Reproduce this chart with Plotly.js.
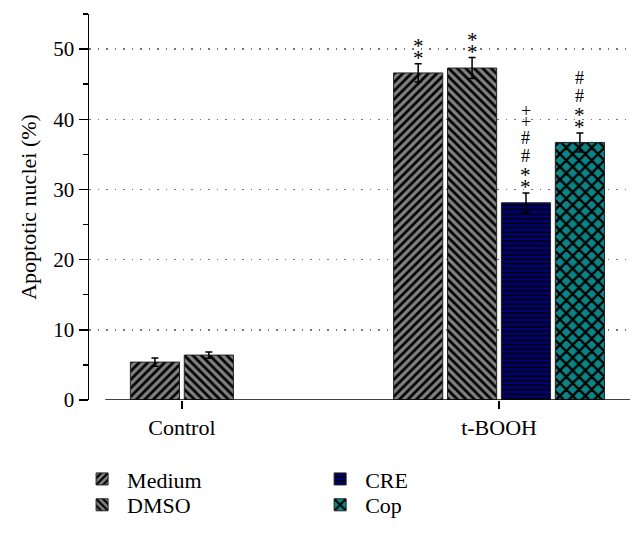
<!DOCTYPE html>
<html>
<head>
<meta charset="utf-8">
<script src="https://cdn.plot.ly/plotly-3.0.1.min.js"></script>
<style>html,body{margin:0;padding:0;background:#fff;}#chart{width:644px;height:533px;}</style>
</head>
<body>
<div id="chart"></div>
<script>
const categories = ['Control', 't-BOOH'];
const seriesNames = ['Medium', 'DMSO', 'CRE', 'Cop'];
const medium = [5.4, 46.6];
const dmso = [6.4, 47.3];
const cre = [null, 28.1];
const cop = [null, 36.7];
const mediumErr = [0.6, 1.3];
const dmsoErr = [0.45, 1.5];
const creErr = [0, 1.4];
const copErr = [0, 1.35];
const mediumSig = ['', '**'];
const dmsoSig = ['', '**'];
const creSig = ['', '**##++'];
const copSig = ['', '**##'];
const yTicks = [0, 10, 20, 30, 40, 50];

const values = [medium, dmso, cre, cop];
const errs = [mediumErr, dmsoErr, creErr, copErr];
const sigs = [mediumSig, dmsoSig, creSig, copSig];

const styles = [
  {color: '#808080', shape: '/', size: 6, solidity: 0.45, fg: '#000'},
  {color: '#808080', shape: '\\', size: 6, solidity: 0.45, fg: '#000'},
  {color: '#00007a', shape: '-', size: 4.5, solidity: 0.4, fg: '#000'},
  {color: '#0a8585', shape: 'x', size: 9, solidity: 0.45, fg: '#000'}
];
const legendOf = ['legend', 'legend2', 'legend3', 'legend4'];

const pitch = 0.17, barW = 0.155;
const offsets = values.map(() => categories.map(() => 0));
categories.forEach((c, g) => {
  const present = values.map((v, s) => v[g] != null ? s : -1).filter(s => s >= 0);
  const n = present.length;
  present.forEach((s, k) => {
    offsets[s][g] = (k - n / 2) * pitch + (pitch - barW) / 2;
  });
});

const traces = seriesNames.map((name, s) => ({
  type: 'bar',
  name: name,
  x: categories,
  y: values[s],
  width: barW,
  offset: offsets[s],
  legend: legendOf[s],
  marker: {
    color: styles[s].color,
    line: {color: '#222', width: 1},
    pattern: {shape: styles[s].shape, size: styles[s].size, solidity: styles[s].solidity,
              fgcolor: styles[s].fg, bgcolor: styles[s].color, fillmode: 'replace'}
  },
  error_y: {type: 'data', array: errs[s], visible: true, color: '#000', thickness: 1.5, width: 3.5},
  hoverinfo: 'skip'
}));

const serif = 'Liberation Serif, Times New Roman, serif';
const charH = {'*': 11.5, '#': 18, '+': 11};
const charAdj = {'*': -5, '#': 0, '+': 1};
const charSize = {'*': 21, '#': 18, '+': 18};
const annotations = [];
seriesNames.forEach((name, s) => {
  categories.forEach((c, g) => {
    const str = sigs[s][g];
    if (!str || values[s][g] == null) return;
    const xPos = g + offsets[s][g] + barW / 2;
    const yPos = values[s][g] + errs[s][g];
    let centre = 11;
    for (let i = 0; i < str.length; i++) {
      const ch = str[i];
      if (i > 0) centre += (charH[str[i - 1]] + charH[ch]) / 2;
      annotations.push({
        x: xPos, y: yPos, xref: 'x', yref: 'y', text: ch, showarrow: false,
        xanchor: 'center', yanchor: 'middle', yshift: centre + charAdj[ch], borderpad: 0,
        font: {family: serif, size: charSize[ch], color: '#000'}
      });
    }
  });
});

function leg(x, y) {
  return {x: x, y: y, xanchor: 'left', yanchor: 'middle', orientation: 'v',
          bgcolor: 'rgba(0,0,0,0)', font: {family: serif, size: 22, color: '#000'},
          itemwidth: 40, tracegroupgap: 0};
}

const layout = {
  width: 644, height: 533,
  margin: {l: 89, r: 14, t: 14, b: 133, autoexpand: false},
  paper_bgcolor: '#fff', plot_bgcolor: '#fff',
  barmode: 'overlay',
  font: {family: serif, size: 22, color: '#000'},
  xaxis: {
    type: 'category', range: [-0.293, 1.413], showline: false, zeroline: false, showgrid: false,
    ticks: 'outside', ticklen: 8, tickwidth: 1.5, tickcolor: '#000',
    tickfont: {family: serif, size: 22, color: '#000'}, fixedrange: true, automargin: false
  },
  yaxis: {
    range: [0, 55], tickvals: yTicks, showline: true, linecolor: '#000', linewidth: 1.5,
    ticks: 'outside', ticklen: 9, tickwidth: 1.5, tickcolor: '#000',
    minor: {dtick: 5, tick0: 5, ticks: 'outside', ticklen: 5, tickwidth: 1.5, tickcolor: '#000', showgrid: false},
    showgrid: true, gridcolor: '#777', gridwidth: 1.5, griddash: '1.5px,7px', zeroline: false,
    tickfont: {family: serif, size: 21, color: '#000'},
    title: {text: 'Apoptotic nuclei (%)', font: {family: serif, size: 22, color: '#000'}, standoff: 10},
    automargin: false, fixedrange: true
  },
  shapes: [{type: 'line', xref: 'paper', yref: 'y', x0: 0.03, x1: 1, y0: 0, y1: 0,
            line: {color: '#000', width: 1.5}}],
  legend: leg(-0.022, -0.205),
  legend2: leg(-0.022, -0.272),
  legend3: leg(0.418, -0.205),
  legend4: leg(0.418, -0.272),
  annotations: annotations,
  showlegend: true
};

Plotly.newPlot('chart', traces, layout, {displayModeBar: false, staticPlot: true});
</script>
</body>
</html>
